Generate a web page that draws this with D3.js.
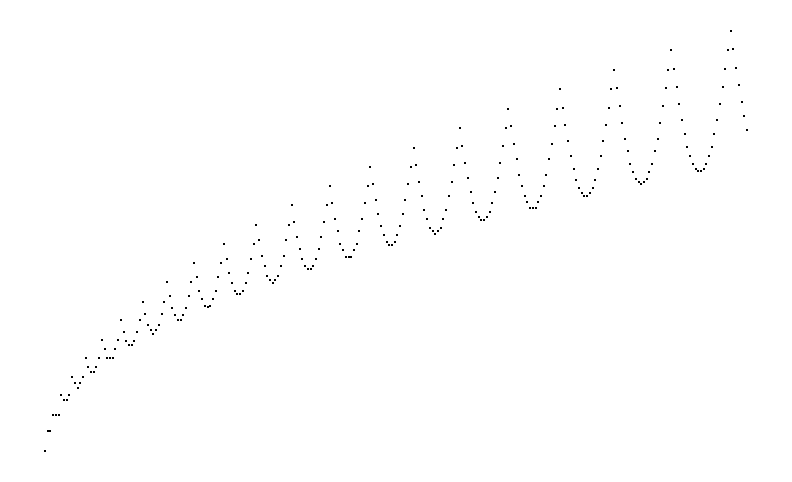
<!DOCTYPE html>
<html>
<head>
<meta charset="utf-8">
<script src="https://cdn.jsdelivr.net/npm/d3@7"></script>
<style>
  html, body { margin: 0; padding: 0; background: #ffffff; }
  svg { display: block; }
</style>
</head>
<body>
<script>
// Point values (arbitrary units), in order of index.
const values = [
  0, 20, 20, 36, 36, 36, 56, 51, 51, 56,
  74, 68, 63, 68, 74, 93, 84, 79, 79, 84,
  93, 111, 102, 93, 93, 93, 102, 111, 131, 119,
  110, 106, 106, 110, 119, 131, 149, 137, 126, 121,
  117, 121, 126, 137, 149, 169, 155, 143, 136, 131,
  131, 136, 143, 155, 169, 188, 174, 160, 152, 145,
  144, 145, 152, 160, 174, 188, 207, 192, 178, 168,
  160, 157, 157, 160, 168, 178, 192, 207, 226, 211,
  195, 185, 175, 171, 168, 171, 175, 185, 195, 211,
  226, 246, 229, 214, 202, 192, 185, 182, 182, 185,
  192, 202, 214, 229, 246, 265, 248, 232, 220, 207,
  201, 194, 194, 194, 201, 207, 220, 232, 248, 265,
  284, 267, 251, 237, 225, 216, 209, 206, 206, 209,
  216, 225, 237, 251, 267, 284, 303, 286, 269, 255,
  241, 232, 223, 220, 217, 220, 223, 232, 241, 255,
  269, 286, 303, 323, 305, 288, 273, 259, 248, 239,
  234, 231, 231, 234, 239, 248, 259, 273, 288, 305,
  323, 342, 325, 307, 292, 276, 265, 255, 249, 243,
  243, 243, 249, 255, 265, 276, 292, 307, 325, 342,
  362, 343, 326, 310, 295, 282, 271, 263, 258, 255,
  255, 258, 263, 271, 282, 295, 310, 326, 343, 362,
  381, 363, 345, 328, 312, 300, 287, 279, 272, 269,
  267, 269, 272, 279, 287, 300, 312, 328, 345, 363,
  381, 401, 382, 364, 347, 331, 317, 304, 295, 287,
  282, 280, 280, 282, 287, 295, 304, 317, 331, 347,
  364, 382, 401, 420, 402, 383, 366, 349, 335, 321
];

const W = 792, H = 482;

const svg = d3.select("body").append("svg")
  .attr("width", W)
  .attr("height", H)
  .attr("viewBox", `0 0 ${W} ${H}`);

svg.append("rect").attr("width", W).attr("height", H).attr("fill", "#ffffff");

const x = d3.scaleLinear().domain([0, values.length - 1]).range([45, 747]);
const y = d3.scaleLinear().domain([0, 420]).range([451, 31]);

svg.append("g")
  .attr("shape-rendering", "crispEdges")
  .selectAll("rect")
  .data(values)
  .join("rect")
  .attr("x", (d, i) => Math.round(x(i)) - 1)
  .attr("y", d => Math.round(y(d)) - 1)
  .attr("width", 2)
  .attr("height", 2)
  .attr("fill", "#000000");
</script>
</body>
</html>
